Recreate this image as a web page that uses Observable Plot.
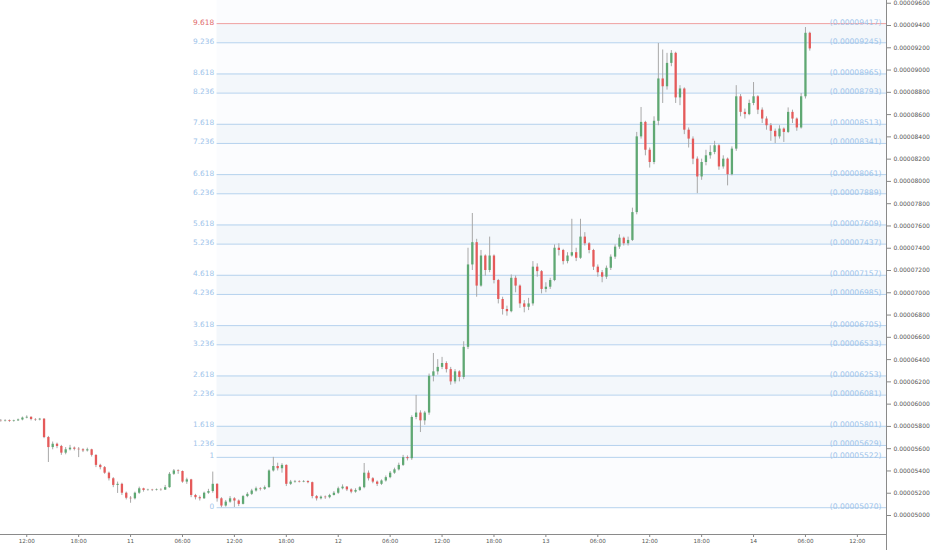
<!DOCTYPE html>
<html><head><meta charset="utf-8">
<script src="https://cdn.jsdelivr.net/npm/d3@7"></script>
<script src="https://cdn.jsdelivr.net/npm/@observablehq/plot@0.6"></script>
<style>body{margin:0;background:#fff}</style>
</head><body><div id="chart"></div>
<script>
// prices in units of 1e-8
const startTime = "2018-02-10T09:00Z";
const stepMinutes = 30;
const firstOpen = 5850;
const closes = [
5848,5852,5845,5850,5858,5875,5882,5862,5858,5865,
5700,5610,5640,5620,5560,5590,5605,5595,5590,5580,
5590,5540,5450,5430,5380,5330,5270,5280,5200,5155,
5150,5200,5240,5225,5228,5225,5230,5228,5250,5370,
5400,5395,5300,5320,5180,5160,5150,5200,5215,5280,
5150,5085,5120,5150,5130,5100,5170,5190,5220,5240,
5235,5250,5400,5440,5420,5450,5280,5300,5305,5300,
5305,5295,5170,5150,5165,5160,5180,5200,5240,5255,
5230,5210,5225,5250,5380,5330,5300,5280,5310,5340,
5380,5410,5450,5520,5510,5880,5920,5850,5920,6250,
6290,6330,6365,6310,6200,6290,6240,6510,7250,7450,
7060,7330,7200,7330,7110,6940,6850,6830,7130,7060,
6900,6870,6900,7230,7190,7030,7050,7110,7400,7380,
7280,7330,7360,7310,7500,7440,7380,7230,7180,7140,
7220,7320,7410,7490,7440,7470,7720,8400,8530,8280,
8170,8540,8920,8850,9060,9150,8750,8830,8460,8380,
8200,8040,8170,8230,8260,8320,8130,8200,8060,8290,
8760,8620,8600,8700,8760,8640,8560,8500,8450,8400,
8470,8440,8620,8560,8480,8760,9330,9190];
const highs = [
5862,5860,5858,5856,5866,5884,5895,5886,5870,5872,
5870,5710,5660,5650,5630,5610,5630,5615,5610,5600,
5605,5595,5545,5460,5440,5390,5340,5300,5290,5210,
5170,5210,5255,5245,5236,5235,5238,5240,5270,5385,
5413,5410,5400,5335,5325,5190,5175,5210,5235,5390,
5285,5160,5135,5170,5160,5140,5180,5205,5235,5255,
5250,5265,5410,5522,5470,5465,5455,5315,5315,5312,
5314,5312,5300,5180,5175,5175,5190,5215,5255,5275,
5260,5240,5240,5260,5467,5400,5340,5310,5320,5355,
5395,5425,5470,5540,5535,5895,6078,5940,5935,6270,
6455,6400,6420,6380,6330,6310,6300,6560,7400,7712,
7480,7380,7340,7500,7340,7120,6960,6880,7160,7150,
7070,6930,6950,7280,7260,7200,7090,7130,7430,7440,
7390,7360,7660,7400,7660,7540,7450,7390,7250,7200,
7240,7340,7430,7520,7500,7500,7760,8440,8664,8540,
8300,8580,9239,9180,9150,9175,9160,8860,8840,8480,
8400,8220,8200,8280,8320,8360,8330,8230,8210,8310,
8860,8780,8650,8730,8888,8770,8660,8580,8520,8470,
8500,8480,8660,8640,8570,8790,9382,9340];
const lows = [
5838,5840,5836,5838,5844,5850,5868,5850,5845,5850,
5690,5476,5590,5600,5540,5545,5580,5580,5520,5565,
5570,5525,5430,5410,5370,5310,5250,5198,5180,5140,
5110,5140,5190,5210,5218,5215,5220,5218,5225,5245,
5360,5370,5290,5280,5160,5140,5130,5145,5190,5200,
5120,5070,5075,5110,5072,5080,5095,5160,5180,5210,
5220,5225,5245,5390,5400,5380,5260,5270,5290,5292,
5294,5285,5150,5130,5140,5145,5150,5175,5190,5230,
5215,5195,5200,5215,5240,5310,5285,5260,5270,5300,
5330,5370,5400,5440,5490,5495,5860,5745,5810,5900,
6200,6260,6310,6280,6170,6180,6200,6220,6490,7200,
6960,7050,7150,7180,7080,6900,6800,6790,6820,7000,
6860,6820,6840,6880,7140,6990,7000,7030,7100,7330,
7250,7260,7320,7280,7300,7420,7350,7200,7140,7090,
7120,7200,7300,7390,7420,7420,7460,7700,8380,8230,
8120,8150,8500,8700,8820,9030,8700,8680,8420,8300,
8150,7890,8010,8140,8200,8240,8100,8110,7960,8050,
8270,8580,8560,8590,8680,8600,8520,8460,8360,8340,
8380,8350,8430,8520,8450,8470,8740,9170];

const fibRatios = [0,1,1.236,1.618,2.236,2.618,3.236,3.618,4.236,4.618,5.236,5.618,6.236,6.618,7.236,7.618,8.236,8.618,9.236,9.618];
const fibPrices = [5070,5522,5629,5801,6081,6253,6533,6705,6985,7157,7437,7609,7889,8061,8341,8513,8793,8965,9245,9417];
const fibStartTime = "2018-02-11T10:00Z";

const xDomain = ["2018-02-10T08:58Z", "2018-02-14T15:22Z"];
const yDomain = [4829.4, 9624.6];
const yTickValues = [5000,5200,5400,5600,5800,6000,6200,6400,6600,6800,7000,7200,7400,7600,7800,8000,8200,8400,8600,8800,9000,9200,9400,9600];
const xTickTimes = ["2018-02-10T12:00Z","2018-02-10T18:00Z","2018-02-11T00:00Z","2018-02-11T06:00Z","2018-02-11T12:00Z","2018-02-11T18:00Z","2018-02-12T00:00Z","2018-02-12T06:00Z","2018-02-12T12:00Z","2018-02-12T18:00Z","2018-02-13T00:00Z","2018-02-13T06:00Z","2018-02-13T12:00Z","2018-02-13T18:00Z","2018-02-14T00:00Z","2018-02-14T06:00Z","2018-02-14T12:00Z"];

// build table
const t0 = new Date(startTime).getTime();
const candles = closes.map((c, i) => ({
  t: new Date(t0 + i * stepMinutes * 60000),
  open: i === 0 ? firstOpen : closes[i - 1],
  close: c, high: highs[i], low: lows[i]
}));
const fibStart = new Date(fibStartTime);
const xStart = new Date(xDomain[0]), xEnd = new Date(xDomain[1]);
const fib = fibRatios.map((r, i) => ({ratio: r, price: fibPrices[i], top: r === 9.618}));
const bands = [];
for (let i = 2; i + 1 < fib.length; i += 2) bands.push({y1: fib[i].price, y2: fib[i + 1].price});
const fmtPrice = v => (v / 1e8).toFixed(8);
const fmtTime = d => (d.getUTCHours() === 0 ? String(d.getUTCDate()) : d3.utcFormat("%H:%M")(d));

const blue = "#b5d2ee", blueText = "#a0c4ea", red = "#f0a0a0", redText = "#e06a6a";
const up = "#5fa873", down = "#e55a5a";

const chart = Plot.plot({
  width: 932, height: 550,
  marginLeft: 0, marginRight: 46, marginTop: 0, marginBottom: 16,
  style: {fontFamily: "DejaVu Sans", background: "#fff"},
  x: {type: "utc", domain: [xStart, xEnd], axis: null, label: null},
  y: {domain: yDomain, axis: null, label: null},
  marks: [
    Plot.rect([0], {x1: () => fibStart, x2: () => xEnd, y1: () => fibPrices[0], y2: () => yDomain[1], fill: "#fbfcfe"}),
    Plot.rect(bands, {x1: () => fibStart, x2: () => xEnd, y1: "y1", y2: "y2", fill: "#f3f7fb"}),
    Plot.ruleY(fib, {y: "price", x1: () => fibStart, x2: () => xEnd, stroke: d => d.top ? red : blue, strokeWidth: 1}),
    Plot.text(fib, {x: () => fibStart, y: "price", text: d => String(d.ratio), textAnchor: "end", lineAnchor: "bottom", dx: -3, dy: 1, fill: d => d.top ? redText : blueText, fontSize: 7.4}),
    Plot.text(fib, {x: () => xEnd, y: "price", text: d => "(" + fmtPrice(d.price) + ")", textAnchor: "end", lineAnchor: "bottom", dx: -5, dy: 1, fill: blueText, fontSize: 7.6}),
    Plot.ruleX(candles, {x: "t", y1: "low", y2: "high", stroke: "#a8a8a8", strokeWidth: 1}),
    Plot.ruleX(candles, {x: "t", y1: "open", y2: "close", stroke: d => d.close >= d.open ? up : down, strokeWidth: 2.3}),
    Plot.ruleY([yDomain[0]], {stroke: "#8a8a8a"}),
    Plot.ruleX([xEnd], {stroke: "#8a8a8a", insetBottom: -16}),
    Plot.axisY({anchor: "right", label: null, ticks: yTickValues, tickFormat: fmtPrice, tickSize: 4, tickPadding: 3, fontSize: 6, fill: "#555", stroke: "#888"}),
    Plot.axisX({anchor: "bottom", label: null, ticks: xTickTimes.map(s => new Date(s)), tickFormat: fmtTime, tickSize: 3, tickPadding: 2, fontSize: 5.6, fill: "#555", stroke: "#888"})
  ]
});
document.getElementById("chart").appendChild(chart);
</script>
</body></html>
